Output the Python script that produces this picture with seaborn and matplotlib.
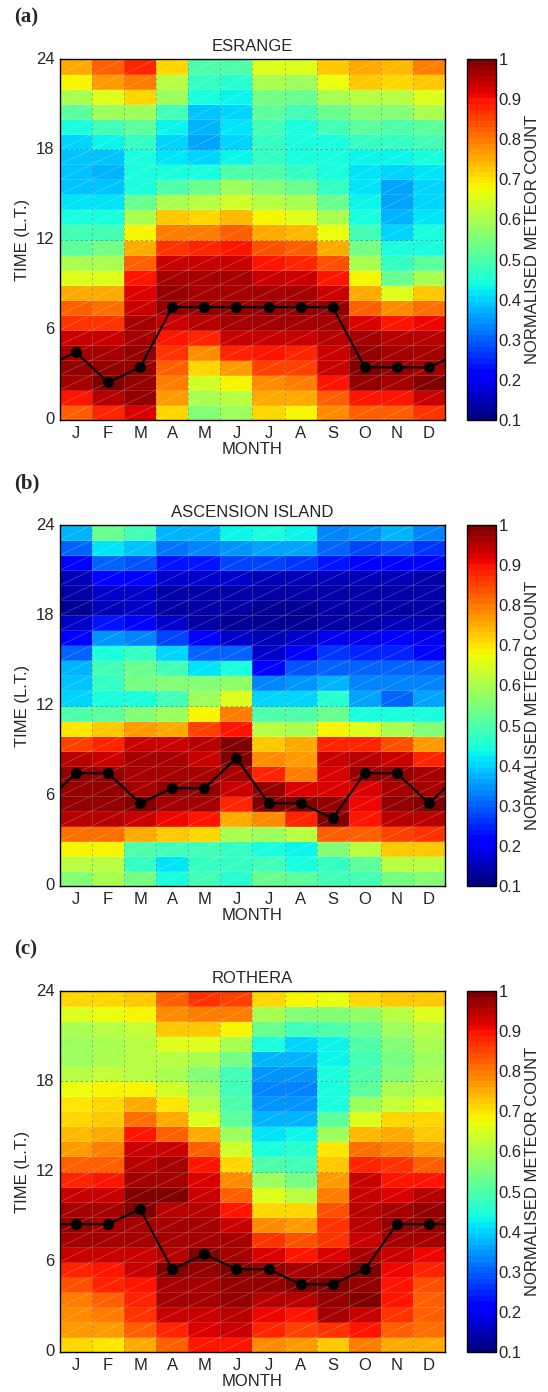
import matplotlib
matplotlib.use("Agg")
import matplotlib.pyplot as plt
import numpy as np
import pandas as pd
import seaborn as sns
from matplotlib.collections import LineCollection

months = ["J", "F", "M", "A", "M", "J", "J", "A", "S", "O", "N", "D"]
hour_ticks = [0, 6, 12, 18, 24]
cbar_ticks = [0.1, 0.2, 0.3, 0.4, 0.5, 0.6, 0.7, 0.8, 0.9, 1.0]
stations = ["ESRANGE", "ASCENSION ISLAND", "ROTHERA"]
panel_tags = ["(a)", "(b)", "(c)"]

# normalised meteor count, one row per local-time hour (0 .. 23), one column per month
esrange = [
    [0.82, 0.88, 0.92, 0.71, 0.55, 0.58, 0.71, 0.69, 0.78, 0.83, 0.82, 0.87],
    [0.90, 0.95, 0.98, 0.77, 0.60, 0.61, 0.75, 0.76, 0.83, 0.90, 0.90, 0.93],
    [0.97, 0.99, 0.98, 0.80, 0.64, 0.69, 0.78, 0.80, 0.89, 0.98, 0.97, 1.00],
    [0.98, 0.98, 0.98, 0.83, 0.71, 0.77, 0.85, 0.85, 0.93, 0.99, 0.98, 0.97],
    [0.97, 0.96, 0.98, 0.86, 0.78, 0.88, 0.89, 0.88, 0.93, 0.98, 0.97, 0.96],
    [0.93, 0.93, 0.97, 0.89, 0.88, 0.93, 0.93, 0.93, 0.95, 0.96, 0.95, 0.95],
    [0.87, 0.86, 0.96, 0.93, 0.95, 0.97, 0.97, 0.97, 0.96, 0.92, 0.90, 0.91],
    [0.82, 0.81, 0.93, 0.98, 0.98, 0.98, 0.98, 0.98, 0.98, 0.83, 0.78, 0.81],
    [0.76, 0.75, 0.92, 0.98, 0.97, 0.97, 0.96, 0.96, 0.93, 0.76, 0.66, 0.72],
    [0.66, 0.65, 0.90, 0.97, 0.96, 0.96, 0.93, 0.93, 0.89, 0.68, 0.53, 0.60],
    [0.60, 0.60, 0.83, 0.93, 0.93, 0.93, 0.90, 0.88, 0.84, 0.60, 0.47, 0.52],
    [0.52, 0.54, 0.76, 0.87, 0.88, 0.90, 0.84, 0.82, 0.76, 0.54, 0.44, 0.45],
    [0.48, 0.48, 0.68, 0.80, 0.80, 0.82, 0.75, 0.74, 0.67, 0.48, 0.40, 0.44],
    [0.44, 0.44, 0.60, 0.73, 0.71, 0.74, 0.68, 0.66, 0.60, 0.45, 0.38, 0.42],
    [0.42, 0.41, 0.53, 0.60, 0.61, 0.64, 0.61, 0.60, 0.53, 0.43, 0.36, 0.40],
    [0.39, 0.39, 0.45, 0.50, 0.53, 0.58, 0.56, 0.53, 0.47, 0.41, 0.36, 0.40],
    [0.39, 0.37, 0.44, 0.44, 0.44, 0.50, 0.50, 0.47, 0.44, 0.41, 0.40, 0.42],
    [0.39, 0.39, 0.44, 0.41, 0.40, 0.43, 0.47, 0.45, 0.44, 0.43, 0.43, 0.44],
    [0.40, 0.43, 0.47, 0.40, 0.36, 0.40, 0.47, 0.45, 0.45, 0.47, 0.47, 0.48],
    [0.45, 0.48, 0.52, 0.43, 0.37, 0.42, 0.48, 0.44, 0.48, 0.51, 0.50, 0.52],
    [0.52, 0.58, 0.59, 0.48, 0.39, 0.40, 0.51, 0.48, 0.53, 0.55, 0.55, 0.60],
    [0.60, 0.66, 0.71, 0.58, 0.45, 0.43, 0.54, 0.53, 0.60, 0.62, 0.62, 0.66],
    [0.69, 0.77, 0.80, 0.62, 0.47, 0.46, 0.60, 0.58, 0.67, 0.72, 0.71, 0.73],
    [0.75, 0.82, 0.88, 0.71, 0.50, 0.50, 0.66, 0.65, 0.72, 0.75, 0.74, 0.80],
]

ascension = [
    [0.56, 0.60, 0.54, 0.44, 0.48, 0.46, 0.53, 0.52, 0.49, 0.48, 0.54, 0.56],
    [0.62, 0.62, 0.47, 0.42, 0.47, 0.47, 0.49, 0.45, 0.47, 0.51, 0.62, 0.62],
    [0.68, 0.68, 0.50, 0.49, 0.49, 0.47, 0.45, 0.43, 0.55, 0.62, 0.72, 0.73],
    [0.81, 0.81, 0.75, 0.73, 0.71, 0.60, 0.59, 0.61, 0.82, 0.83, 0.85, 0.86],
    [0.95, 0.95, 0.93, 0.91, 0.89, 0.76, 0.78, 0.88, 1.00, 0.89, 0.95, 0.95],
    [0.98, 0.98, 0.99, 0.97, 0.97, 0.88, 0.99, 0.99, 0.98, 0.91, 0.98, 0.99],
    [0.98, 0.98, 0.97, 0.98, 0.98, 0.93, 0.98, 0.92, 0.92, 0.92, 0.97, 0.97],
    [0.98, 0.98, 0.97, 0.97, 0.97, 0.97, 0.88, 0.79, 0.92, 0.98, 0.98, 0.96],
    [0.95, 0.94, 0.97, 0.96, 0.93, 0.99, 0.78, 0.77, 0.93, 0.95, 0.93, 0.88],
    [0.85, 0.88, 0.93, 0.93, 0.95, 0.99, 0.72, 0.76, 0.88, 0.88, 0.84, 0.77],
    [0.70, 0.72, 0.77, 0.76, 0.85, 0.90, 0.62, 0.60, 0.68, 0.65, 0.60, 0.56],
    [0.50, 0.51, 0.55, 0.58, 0.69, 0.80, 0.50, 0.50, 0.53, 0.45, 0.44, 0.44],
    [0.40, 0.44, 0.45, 0.48, 0.58, 0.66, 0.40, 0.40, 0.46, 0.36, 0.31, 0.36],
    [0.39, 0.47, 0.54, 0.55, 0.56, 0.57, 0.33, 0.34, 0.38, 0.33, 0.33, 0.33],
    [0.37, 0.48, 0.53, 0.49, 0.42, 0.44, 0.22, 0.29, 0.30, 0.30, 0.31, 0.30],
    [0.31, 0.45, 0.47, 0.40, 0.30, 0.30, 0.17, 0.20, 0.26, 0.25, 0.25, 0.22],
    [0.22, 0.34, 0.33, 0.27, 0.20, 0.17, 0.15, 0.16, 0.19, 0.19, 0.20, 0.19],
    [0.17, 0.23, 0.21, 0.16, 0.13, 0.12, 0.12, 0.12, 0.13, 0.14, 0.15, 0.15],
    [0.12, 0.15, 0.16, 0.14, 0.13, 0.13, 0.12, 0.12, 0.13, 0.13, 0.13, 0.13],
    [0.13, 0.16, 0.17, 0.14, 0.14, 0.14, 0.13, 0.13, 0.14, 0.14, 0.14, 0.14],
    [0.15, 0.22, 0.21, 0.17, 0.17, 0.17, 0.15, 0.15, 0.15, 0.15, 0.15, 0.13],
    [0.20, 0.30, 0.29, 0.24, 0.24, 0.27, 0.27, 0.26, 0.23, 0.20, 0.20, 0.20],
    [0.30, 0.42, 0.39, 0.32, 0.33, 0.35, 0.36, 0.36, 0.30, 0.28, 0.29, 0.26],
    [0.38, 0.53, 0.49, 0.38, 0.38, 0.43, 0.44, 0.43, 0.33, 0.34, 0.38, 0.33],
]

rothera = [
    [0.71, 0.70, 0.75, 0.83, 0.89, 0.90, 0.78, 0.77, 0.73, 0.80, 0.76, 0.76],
    [0.77, 0.77, 0.82, 0.88, 0.92, 0.93, 0.88, 0.85, 0.87, 0.90, 0.82, 0.81],
    [0.78, 0.79, 0.86, 0.93, 0.93, 0.95, 0.91, 0.90, 0.96, 0.93, 0.87, 0.83],
    [0.80, 0.82, 0.88, 0.96, 0.96, 0.98, 0.95, 0.95, 0.98, 0.99, 0.89, 0.82],
    [0.84, 0.88, 0.90, 0.97, 0.97, 0.98, 0.98, 0.99, 0.99, 0.98, 0.90, 0.84],
    [0.88, 0.90, 0.94, 0.99, 0.98, 0.99, 0.98, 0.97, 0.97, 0.99, 0.91, 0.88],
    [0.93, 0.93, 0.94, 0.95, 0.99, 0.97, 0.92, 0.90, 0.92, 0.96, 0.93, 0.91],
    [0.97, 0.97, 0.97, 0.96, 0.97, 0.96, 0.87, 0.84, 0.87, 0.94, 0.97, 0.97],
    [0.98, 0.97, 0.97, 0.96, 0.96, 0.93, 0.78, 0.77, 0.86, 0.95, 0.98, 0.98],
    [0.97, 0.97, 0.99, 0.95, 0.95, 0.89, 0.71, 0.71, 0.84, 0.95, 0.97, 0.98],
    [0.94, 0.93, 0.99, 0.99, 0.93, 0.83, 0.66, 0.61, 0.80, 0.93, 0.92, 0.95],
    [0.88, 0.90, 0.97, 0.97, 0.92, 0.78, 0.58, 0.54, 0.77, 0.93, 0.90, 0.90],
    [0.82, 0.82, 0.95, 0.96, 0.89, 0.71, 0.50, 0.49, 0.72, 0.88, 0.87, 0.83],
    [0.77, 0.80, 0.94, 0.94, 0.82, 0.64, 0.45, 0.46, 0.70, 0.81, 0.80, 0.77],
    [0.74, 0.76, 0.89, 0.82, 0.75, 0.58, 0.42, 0.43, 0.58, 0.74, 0.75, 0.73],
    [0.71, 0.73, 0.81, 0.76, 0.66, 0.52, 0.38, 0.38, 0.51, 0.66, 0.71, 0.71],
    [0.70, 0.71, 0.75, 0.70, 0.61, 0.50, 0.34, 0.34, 0.45, 0.58, 0.63, 0.65],
    [0.67, 0.69, 0.69, 0.64, 0.58, 0.49, 0.33, 0.33, 0.44, 0.52, 0.60, 0.61],
    [0.61, 0.63, 0.62, 0.60, 0.56, 0.49, 0.34, 0.34, 0.44, 0.50, 0.56, 0.60],
    [0.59, 0.60, 0.61, 0.62, 0.60, 0.54, 0.38, 0.37, 0.43, 0.48, 0.54, 0.59],
    [0.58, 0.60, 0.62, 0.65, 0.66, 0.60, 0.44, 0.40, 0.43, 0.50, 0.56, 0.60],
    [0.60, 0.62, 0.63, 0.72, 0.72, 0.68, 0.53, 0.48, 0.50, 0.53, 0.58, 0.61],
    [0.66, 0.67, 0.69, 0.78, 0.80, 0.79, 0.60, 0.56, 0.56, 0.57, 0.62, 0.66],
    [0.71, 0.71, 0.73, 0.82, 0.87, 0.85, 0.71, 0.69, 0.67, 0.71, 0.72, 0.72],
]

# hour bin of the peak count for each month
esrange_peak = [4, 2, 3, 7, 7, 7, 7, 7, 7, 3, 3, 3]
ascension_peak = [7, 7, 5, 6, 6, 8, 5, 5, 4, 7, 7, 5]
rothera_peak = [8, 8, 9, 5, 6, 5, 5, 4, 4, 5, 8, 8]

grids = [esrange, ascension, rothera]
peaks = [esrange_peak, ascension_peak, rothera_peak]

sns.set_style("white")
plt.rcParams["font.family"] = ["Liberation Sans", "DejaVu Sans"]

W, H = 548, 1392
FS = 12
cmap = plt.get_cmap("jet", 64)
fig = plt.figure(figsize=(W / 100, H / 100), dpi=100)

ax_left, ax_w = 60, 385
cb_left, cb_w = 467, 29
ax_h = 361
tops = [59, 525, 991]

for grid, peak, name, tag, top in zip(grids, peaks, stations, panel_tags, tops):
    bottom = (H - top - ax_h) / H
    ax = fig.add_axes([ax_left / W, bottom, ax_w / W, ax_h / H])
    cax = fig.add_axes([cb_left / W, bottom, cb_w / W, ax_h / H])

    df = pd.DataFrame(grid, columns=range(12))
    sns.heatmap(df, ax=ax, cbar_ax=cax, cmap=cmap, vmin=0.1, vmax=1.0,
                linewidths=0.4, linecolor=(1, 1, 1, 0.15))
    ax.invert_yaxis()

    # faint diagonal seams inside each cell, like the original rendering
    nrow, ncol = df.shape
    segs = [[(j, i), (j + 1, i + 1)] for i in range(nrow) for j in range(ncol)]
    ax.add_collection(LineCollection(segs, colors=(1, 1, 1, 0.28), linewidths=0.5))

    # dashed grid
    for j in range(1, ncol):
        ax.axvline(j, color="0.35", lw=0.6, ls=(0, (3, 3)), alpha=0.5)
    for h in hour_ticks[1:-1]:
        ax.axhline(h, color="0.35", lw=0.6, ls=(0, (3, 3)), alpha=0.6)

    # peak hour line, wrapped to the edges
    xc = np.arange(ncol) + 0.5
    yc = np.array(peak) + 0.5
    edge = (yc[0] + yc[-1]) / 2
    ax.plot(np.r_[0, xc, ncol], np.r_[edge, yc, edge], color="black", lw=1.5)
    ax.plot(xc, yc, "o", color="black", ms=7)

    ax.set_xlim(0, ncol)
    ax.set_ylim(0, nrow)
    ax.set_xticks(xc, months, rotation=0)
    ax.set_yticks(hour_ticks, [str(h) for h in hour_ticks], rotation=0)
    ax.tick_params(direction="in", length=3, width=0.8, labelsize=FS,
                   bottom=True, left=True, pad=4)
    for s in ax.spines.values():
        s.set_visible(True)
        s.set_linewidth(1.0)
        s.set_color("black")
    ax.set_title(name, fontsize=FS, pad=6)
    ax.set_xlabel("MONTH", fontsize=FS, labelpad=1)
    ax.set_ylabel("TIME (L.T.)", fontsize=FS, labelpad=4)

    cb = ax.collections[0].colorbar
    cb.set_ticks(cbar_ticks)
    cb.set_ticklabels(["0.1", "0.2", "0.3", "0.4", "0.5", "0.6", "0.7", "0.8", "0.9", "1"])
    cb.outline.set_visible(True)
    cb.outline.set_linewidth(1.0)
    cb.outline.set_edgecolor("black")
    cax.tick_params(direction="in", length=3, width=0.8, labelsize=FS,
                    left=True, right=True, pad=2)
    cb.set_label("NORMALISED METEOR COUNT", fontsize=FS, labelpad=2)

    fig.text(14 / W, 1 - (top - 42) / H, tag, fontsize=15, fontweight="bold",
             family=["Liberation Serif", "DejaVu Serif"], va="center", ha="left")

fig.savefig("out.png", dpi=100)
